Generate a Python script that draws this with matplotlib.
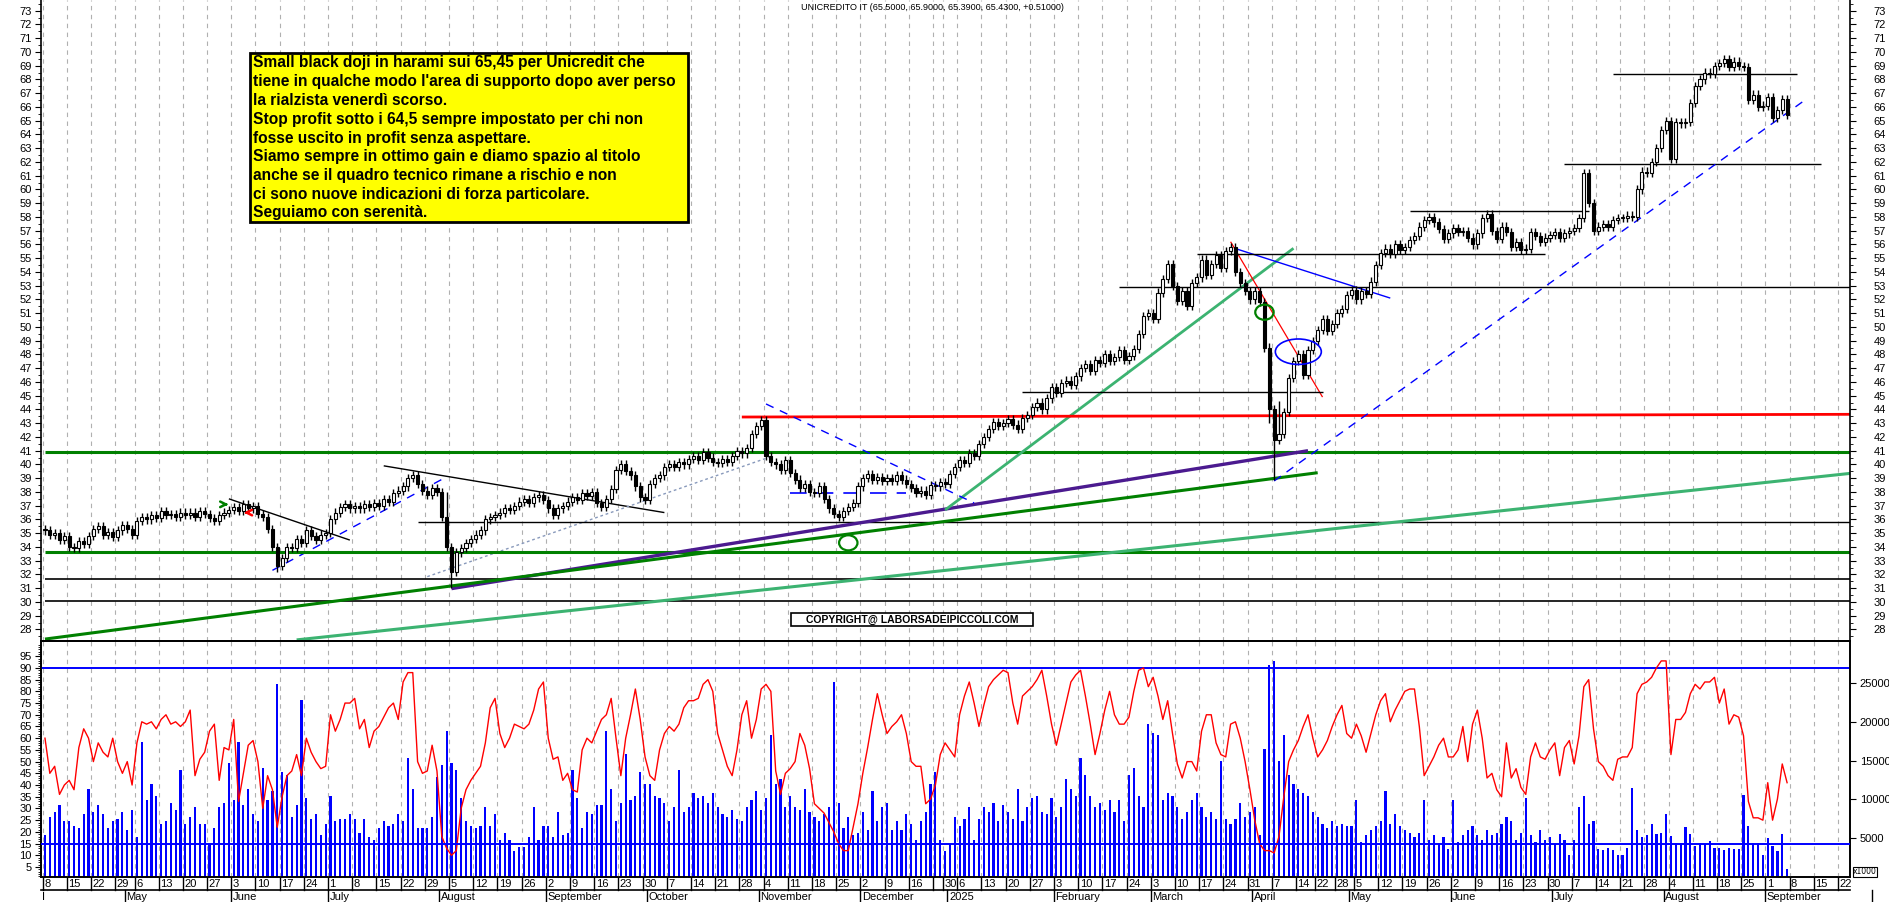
import numpy as np
import pandas as pd
import matplotlib
matplotlib.use("Agg")
import matplotlib.pyplot as plt
from matplotlib.patches import Rectangle, Ellipse
from matplotlib.lines import Line2D
import matplotlib.transforms as mtransforms

# ---------------- data ----------------
holidays = ['2024-05-01', '2024-12-24', '2024-12-25', '2024-12-26', '2024-12-31',
            '2025-01-01', '2025-04-18', '2025-04-21', '2025-05-01']

close = [
    35.2, 34.9, 35.0, 34.5, 34.8, 34.0, 33.9, 34.4, 34.2, 34.8, 35.3, 35.5, 34.9, 35.1, 34.7,
    35.2, 35.6, 35.3, 34.9,
    35.9, 36.2, 36.0, 36.3, 36.1, 36.6, 36.3, 36.4, 36.2, 36.5, 36.3, 36.5, 36.2, 36.6, 36.4,
    36.1, 35.9, 36.3, 36.5, 36.7, 36.9, 36.6, 37.1, 36.8, 37.0, 36.4, 36.2, 35.3, 34.0, 32.6,
    33.2, 34.0, 33.9, 34.6, 34.3, 35.2, 34.8, 34.5, 34.9, 35.0, 36.0, 36.5, 36.9, 37.1, 36.8,
    37.0, 36.8, 37.1, 36.9, 37.2, 37.0, 37.5, 37.3, 37.9, 38.1, 38.4, 39.0, 39.2, 38.6, 38.1,
    37.8, 38.3, 38.0, 36.2, 34.0, 32.2, 33.6, 33.9, 34.3, 34.6, 34.9, 35.2, 36.0, 36.2, 36.3,
    36.5, 36.8, 36.7, 37.0, 37.3, 37.5, 37.2, 37.6, 37.8, 37.4, 36.8, 36.3, 36.8, 37.0, 37.3,
    37.6, 37.4, 37.9, 37.7, 38.0, 37.2, 36.9, 37.5, 38.2, 39.6, 40.0, 39.5, 39.2, 38.4, 37.6,
    37.4, 38.6, 39.0, 39.2, 39.8, 40.0, 39.8, 40.2, 40.0, 40.4, 40.6, 40.3, 40.9, 40.5, 40.2,
    40.1, 40.4, 40.2, 40.6, 41.0, 40.8, 41.2, 42.2, 42.8, 43.2, 40.6, 40.2, 40.0, 39.6, 40.3,
    39.4, 38.9, 38.3, 38.6, 38.0, 37.9, 38.4, 37.5, 36.8, 36.4, 36.2, 36.6, 36.9, 37.2, 38.4,
    39.0, 39.3, 38.9, 39.1, 38.8, 39.0, 38.8, 39.2, 38.9, 38.6, 38.3, 37.9, 38.1, 37.8, 38.5,
    38.4, 38.7, 38.6, 39.3, 39.8,
    40.3, 40.1, 40.8, 40.6, 41.5, 42.0, 42.6, 43.1, 42.8, 43.0, 43.3, 42.9, 42.6, 43.4, 43.6,
    44.2, 44.5, 44.0, 44.8, 45.6, 45.2, 45.9, 46.1, 45.8, 46.4, 47.0, 47.3, 46.8, 47.6, 47.4,
    48.0, 47.5, 47.8, 48.3, 47.6, 47.9, 48.4, 49.5, 50.8, 51.0, 50.6, 52.5, 53.5, 54.6, 53.0,
    51.9, 52.6, 51.5, 53.2, 53.6, 54.9, 53.8, 54.6, 55.2, 54.3, 55.5, 55.8, 54.0, 53.2, 52.6,
    52.0, 52.6, 51.8, 48.5, 44.0, 41.8, 42.2, 43.8, 46.3, 47.5,
    48.0, 46.5, 48.3, 49.0, 49.8, 50.6, 49.7, 50.2, 51.0, 51.3, 52.3, 52.7,
    52.0, 52.6, 52.4, 53.3, 54.5, 55.4, 55.7, 55.3, 56.0, 55.6, 55.8, 56.3, 56.6, 57.3, 57.8,
    58.0, 57.6, 57.1, 56.4, 56.8, 57.2, 56.9, 57.0, 56.5, 56.0, 56.8, 57.9, 58.2, 57.0, 56.4,
    57.3, 56.9, 55.8, 56.2, 55.6, 55.7, 56.9, 56.6, 56.2, 56.5, 56.7, 56.9, 56.5, 56.8, 57.0,
    57.2, 57.9, 61.2, 59.0, 57.0, 57.3, 57.5, 57.3, 57.8, 57.9, 57.9, 58.1, 58.0, 60.0, 61.3,
    61.2, 62.0, 63.0, 64.3, 65.0, 62.2, 64.9, 64.8, 64.9, 66.3, 67.5, 68.0, 68.5, 68.4, 69.0,
    69.2, 69.5, 68.9, 69.3, 69.0, 68.9, 66.5, 66.9, 66.0, 66.1, 66.7, 65.2, 65.8, 66.6, 65.43,
]
low_override_dates = ['2024-06-14', '2024-08-05', '2025-04-07', '2025-04-04']
low_override_values = [32.2, 31.0, 38.9, 43.0]
high_override_dates = ['2024-08-02', '2025-04-08']
high_override_values = [38.0, 44.6]

osc_part1 = [60, 45, 48, 36, 40, 42, 38, 56, 64, 60, 50, 58, 54, 52, 60, 50, 45, 50, 40, 58,
             67, 66, 67, 64, 68, 70, 66, 67, 65, 67, 72, 44, 51, 54, 63, 66, 42, 56, 55, 68,
             33, 45, 57, 59, 50, 30, 44, 38, 22, 35, 44, 46, 53, 44, 60, 54, 50, 47, 48, 70,
             63, 68, 75, 75, 77, 64, 68, 56, 63, 65, 69, 73, 75, 68, 84, 88, 88, 50, 45, 46,
             57, 46, 18, 13, 10, 12, 30, 38, 42, 45, 48, 58, 73, 77, 62, 56, 60, 66, 65, 64,
             66, 72, 81, 84, 60, 51, 52, 42, 45, 38, 37, 55, 60, 58, 63, 68, 70, 77, 60, 44,
             60, 70, 81, 68, 52]
osc_part2 = [44, 42, 55, 62, 65, 63, 66, 73, 76, 76, 77, 83, 85, 80, 62, 55, 48, 44, 55, 70,
             76, 60, 68, 81, 83, 80, 46, 36, 45, 47, 50, 62, 57, 47, 32, 30, 28, 24, 20, 15,
             12, 12, 22, 32, 45, 56, 68, 79, 70, 62, 65, 67, 70, 62, 50, 48, 48, 32, 34, 40,
             53, 58, 55, 52, 70, 78, 84, 75, 65, 74, 82, 85, 87, 89, 88, 75, 66, 78, 80, 82,
             85, 89, 78, 66, 57, 66, 75, 84, 87, 89, 78, 66, 53, 62, 72, 80, 70, 66, 66, 69,
             80, 89, 90, 82, 86, 78, 68, 76, 62, 49, 43, 50, 50, 46, 63, 70, 70, 58, 53, 52,
             66, 67, 60, 50, 38, 25, 15, 12, 12, 11, 18, 35, 50, 55, 59, 65, 70, 60, 52, 55,
             59, 65, 70, 74, 62, 60, 66, 61, 54, 62, 70, 76, 79, 67, 72, 76, 80, 81, 81, 65,
             44, 48, 52, 57, 60, 52, 52, 55, 65, 50, 66, 72, 60, 43, 45, 38, 35, 58, 43, 47,
             39, 36, 52, 58, 52, 51, 55]
osc_part3 = [58, 44, 56, 59, 49, 61, 82, 85, 64, 50, 48, 44, 42, 51, 52, 52, 56, 79, 83, 84,
             86, 90, 93, 93, 53, 68, 68, 71, 79, 83, 81, 84, 84, 86, 75, 81, 66, 70, 69, 61,
             33, 26, 26, 25, 41, 25, 34, 49, 41]
osc = osc_part1 + osc_part2 + osc_part3

# volume, first two parts read on the left (0-100) scale, last part in thousands
vol_part1 = [18, 26, 28, 31, 24, 24, 22, 21, 27, 38, 28, 31, 27, 21, 24, 25, 28, 20, 29, 17,
             58, 33, 40, 35, 23, 24, 32, 29, 46, 23, 26, 30, 23, 23, 14, 21, 30, 32, 49, 33,
             58, 31, 38, 27, 24, 47, 33, 37, 83, 45, 44, 26, 31, 76, 34, 25, 27, 18, 23, 35,
             24, 25, 25, 27, 25, 19, 25, 17, 16, 21, 24, 22, 23, 27, 24, 51, 38, 21, 21, 21,
             26, 43, 48, 63, 49, 46, 34, 24, 22, 21, 22, 30, 22, 27, 16, 19, 16, 11, 13, 13,
             17, 30, 16, 22, 22, 17, 28, 18, 19, 46, 34, 21, 28, 27, 31, 31, 63, 38, 24, 32,
             53, 33, 35, 45, 40]
vol_part2 = [40, 35, 34, 32, 24, 30, 46, 28, 30, 36, 34, 35, 32, 36, 30, 27, 26, 29, 25, 24,
             30, 33, 37, 29, 34, 61, 40, 42, 30, 35, 30, 29, 38, 28, 26, 24, 27, 30, 84, 32,
             21, 26, 18, 19, 28, 20, 37, 24, 30, 32, 20, 24, 20, 27, 23, 16, 24, 28, 40, 45,
             16, 11, 14, 26, 22, 25, 30, 16, 25, 30, 28, 32, 24, 31, 28, 25, 38, 24, 30, 34,
             35, 28, 27, 34, 26, 30, 42, 38, 35, 51, 44, 35, 30, 32, 29, 33, 28, 33, 24, 44,
             47, 35, 30, 66, 62, 61, 33, 36, 35, 30, 25, 28, 33, 36, 30, 26, 28, 25, 50, 25,
             23, 25, 32, 26, 28, 30, 18, 55, 91, 93, 50, 61, 44, 40, 38, 36, 35, 28, 26, 23,
             21, 24, 22, 23, 22, 22, 33, 15, 18, 20, 22, 24, 37, 23, 27, 22, 20, 19, 17, 19,
             33, 16, 18, 14, 17, 12, 33, 15, 18, 20, 22, 18, 16, 20, 18, 19, 23, 26, 24, 16,
             19, 34, 18, 15, 20, 16, 17]
vol_part3_k = [4.2, 5.6, 4.8, 2.9, 4.8, 9.0, 10.4, 6.8, 7.2, 3.6, 3.5, 3.7, 3.5, 2.9, 2.8, 3.8,
               11.5, 6.0, 5.2, 5.4, 6.8, 5.6, 5.7, 8.1, 5.3, 4.4, 4.4, 6.4, 5.5, 4.0, 4.4, 4.2,
               4.6, 3.8, 3.8, 3.5, 3.8, 3.6, 3.6, 10.6, 6.6, 4.4, 4.4, 2.8, 5.0, 4.0, 3.3, 5.6, 1.0]
VOL_TOP_K = 30.43
volume_k = [v * VOL_TOP_K / 101.5 for v in vol_part1 + vol_part2] + vol_part3_k

# annotation lines: (start date, start price, end date, end price, color, width, style)
trend_lines = [
    ('2024-05-31', 37.5, '2024-07-05', 34.5, 'black', 1.0, '-'),
    ('2024-06-13', 32.3, '2024-08-02', 39.1, 'blue', 1.0, (0, (6, 5))),
    ('2024-07-16', 39.9, '2024-10-04', 36.5, 'black', 1.0, '-'),
    ('2024-07-29', 31.84, '2024-11-05', 40.57, '#8899bb', 1.0, (0, (2, 2))),
    ('2024-07-25', 35.8, '2025-09-30', 35.8, 'black', 1.0, '-'),
    ('2024-04-08', 31.65, '2025-09-30', 31.65, 'black', 1.2, '-'),
    ('2024-04-08', 30.05, '2025-09-30', 30.05, 'black', 1.2, '-'),
    ('2024-04-08', 40.88, '2025-09-30', 40.88, '#008000', 2.2, '-'),
    ('2024-04-08', 33.6, '2025-09-30', 33.6, '#008000', 2.2, '-'),
    ('2024-08-05', 30.97, '2025-04-16', 41.0, '#4b1a8f', 2.4, '-'),
    ('2024-04-08', 27.3, '2025-04-22', 39.4, '#008000', 2.2, '-'),
    ('2024-06-20', 27.24, '2025-09-30', 39.5, '#3cb371', 2.2, '-'),
    ('2024-12-30', 36.69, '2025-04-11', 55.72, '#3cb371', 2.0, '-'),
    ('2024-10-28', 43.45, '2025-09-30', 43.65, 'red', 2.0, '-'),
    ('2024-11-04', 44.4, '2025-01-09', 37.2, 'blue', 1.0, (0, (6, 5))),
    ('2024-11-11', 37.9, '2024-12-13', 37.9, 'blue', 1.2, (0, (10, 6))),
    ('2025-03-25', 56.2, '2025-04-23', 44.9, 'red', 0.9, '-'),
    ('2025-03-26', 55.7, '2025-05-14', 52.1, 'blue', 1.0, '-'),
    ('2025-03-14', 55.3, '2025-06-27', 55.3, 'black', 1.0, '-'),
    ('2025-02-20', 52.9, '2025-09-30', 52.9, 'black', 1.0, '-'),
    ('2025-01-23', 45.3, '2025-04-23', 45.3, 'black', 1.0, '-'),
    ('2025-05-20', 58.43, '2025-07-10', 58.43, 'black', 1.0, '-'),
    ('2025-07-03', 61.83, '2025-09-16', 61.83, 'black', 1.0, '-'),
    ('2025-07-17', 68.38, '2025-09-09', 68.38, 'black', 1.0, '-'),
    ('2025-04-07', 38.8, '2025-09-11', 66.58, 'blue', 1.0, (0, (6, 5))),
]
circles = [('2024-11-27', 34.3, '#008000'), ('2025-04-03', 51.07, '#008000')]
ellipse_blue = ('2025-04-14', 48.2)

title = "UNICREDITO IT (65.5000, 65.9000, 65.3900, 65.4300, +0.51000)"
note_lines = [
    "Small black doji in harami sui 65,45 per Unicredit che",
    "tiene in qualche modo l'area di supporto dopo aver perso",
    "la rialzista venerdì scorso.",
    "Stop profit sotto i 64,5 sempre impostato per chi non",
    "fosse uscito in profit senza aspettare.",
    "Siamo sempre in ottimo gain e diamo spazio al titolo",
    "anche se il quadro tecnico rimane a rischio e non",
    "ci sono nuove indicazioni di forza particolare.",
    "Seguiamo con serenità.",
]
copyright_text = "COPYRIGHT@ LABORSADEIPICCOLI.COM"
month_names = {1: '2025', 2: 'February', 3: 'March', 4: 'April', 5: 'May', 6: 'June', 7: 'July',
               8: 'August', 9: 'September', 10: 'October', 11: 'November', 12: 'December'}

# ---------------- dates ----------------
all_days = pd.bdate_range('2024-04-08', '2025-10-10')
all_days = all_days[~all_days.isin(pd.to_datetime(holidays))]
days = all_days[all_days <= '2025-09-05']
n = len(days)
for name, arr in (('close', close), ('osc', osc), ('volume', volume_k)):
    if len(arr) != n:
        raise ValueError(f"{name} length {len(arr)} != {n}")


def xi(d):
    return float(all_days.get_indexer([pd.Timestamp(d)], method='nearest')[0])


x = np.arange(n)
c = np.array(close)
o = np.concatenate([[c[0] + 0.1], c[:-1]])
hi = np.maximum(o, c) + 0.3
lo = np.minimum(o, c) - 0.3
for d, v in zip(low_override_dates, low_override_values):
    lo[int(xi(d))] = v
for d, v in zip(high_override_dates, high_override_values):
    hi[int(xi(d))] = v

# ---------------- figure ----------------
W, H = 1890, 902
fig = plt.figure(figsize=(W / 100, H / 100), dpi=100)
L, R = 41.5, 1850
ax = fig.add_axes([L / W, 1 - 641 / H, (R - L) / W, 641 / H])
ax2 = fig.add_axes([L / W, 1 - 877 / H, (R - L) / W, 236 / H], sharex=ax)
axv = ax2.twinx()

XMIN, XMAX = -0.72, 373.0
ax.set_xlim(XMIN, XMAX)
ax.set_ylim(27.16, 73.78)
ax2.set_ylim(0.73, 101.5)
axv.set_ylim(0, VOL_TOP_K)

# week grid
wk = pd.Series(np.arange(len(all_days)), index=all_days)
week_first = wk.groupby([all_days.isocalendar().year.values, all_days.isocalendar().week.values]).min().values
week_first = sorted(int(v) for v in week_first if v - 0.5 < XMAX)
for a in (ax, ax2):
    for f in week_first:
        a.axvline(f - 0.5, color='#b0b0b0', lw=0.8, ls=(0, (4, 4)), zorder=0)

# candles
up = c >= o
ax.vlines(x, lo, hi, color='black', lw=1.0, zorder=3)
body = np.maximum(np.abs(c - o), 0.07)
ax.bar(x, body, bottom=np.minimum(o, c), width=0.64,
       color=np.where(up, 'white', 'black'), edgecolor='black', lw=0.8, zorder=4)

# trend lines
for d1, p1, d2, p2, col, lw, ls in trend_lines:
    ax.plot([xi(d1), xi(d2)], [p1, p2], color=col, lw=lw, ls=ls, zorder=2, solid_capstyle='butt')
for d, p, col in circles:
    ax.add_patch(Ellipse((xi(d), p), 3.8, 1.1, fill=False, ec=col, lw=1.6, zorder=5))
ax.add_patch(Ellipse((xi(ellipse_blue[0]), ellipse_blue[1]), 9.5, 1.85, fill=False, ec='blue', lw=1.2, zorder=5))
ax.annotate('', xy=(xi('2024-05-31') + 0.5, 37.1), xytext=(xi('2024-05-31') - 1.6, 37.1),
            arrowprops=dict(arrowstyle='->', color='#008000', lw=1.8))
ax.annotate('', xy=(xi('2024-06-05') - 0.5, 36.5), xytext=(xi('2024-06-05') + 1.6, 36.5),
            arrowprops=dict(arrowstyle='->', color='red', lw=1.8))

# bottom panel
ax2.plot(x, osc, color='red', lw=1.0, zorder=3)
ax2.axhline(90, color='blue', lw=1.4, zorder=2)
ax2.axhline(15, color='blue', lw=1.4, zorder=4)
axv.bar(x, volume_k, width=0.45, color='blue', zorder=1)
ax2.set_zorder(axv.get_zorder() + 1)
ax2.patch.set_visible(False)

# axes styling
for a in (ax, ax2, axv):
    for s in a.spines.values():
        s.set_linewidth(1.2)
ax.spines['top'].set_visible(False)
ax.set_yticks(range(28, 74))
ax.set_yticks(np.arange(27.5, 73.6, 1.0), minor=True)
ax.tick_params(axis='y', which='both', left=True, right=True, labelleft=True, labelright=True,
               labelsize=8, length=4, direction='out', pad=3)
ax.tick_params(axis='y', which='minor', length=2)
ax.tick_params(axis='x', bottom=False, labelbottom=False)
ax2.set_yticks(range(5, 100, 5))
ax2.set_yticks(range(1, 101), minor=True)
ax2.tick_params(axis='y', which='major', labelsize=8, length=4, pad=3)
ax2.tick_params(axis='y', which='minor', length=2)
ax2.tick_params(axis='x', bottom=False, labelbottom=False)
axv.set_yticks([5, 10, 15, 20, 25])
axv.set_yticklabels(['5000', '10000', '15000', '20000', '25000'])
axv.tick_params(axis='y', labelsize=8, length=4, pad=3)
for lab in ax.get_yticklabels() + ax2.get_yticklabels() + axv.get_yticklabels():
    lab.set_fontfamily('Liberation Sans')
# right price labels: right aligned near the figure edge
offset = mtransforms.ScaledTranslation(26 / 100, 0, fig.dpi_scale_trans)
for t in ax.yaxis.get_major_ticks():
    t.label2.set_horizontalalignment('right')
    t.label2.set_transform(t.label2.get_transform() + offset)

# date rows
tr = mtransforms.blended_transform_factory(ax2.transData, fig.transFigure)
y877, y890 = 1 - 877 / H, 1 - 890 / H
fig.add_artist(Line2D([L / W, R / W], [y890, y890], transform=fig.transFigure, color='black', lw=1.2))
for j, f in enumerate(week_first):
    fig.add_artist(Line2D([f - 0.5, f - 0.5], [y877, y890], transform=tr, color='black', lw=1.0, clip_on=False))
    if f - 0.5 > XMAX - 1:
        continue
    if j + 1 < len(week_first) and week_first[j + 1] - f < 3:
        continue
    fig.text(f - 0.2, 1 - 884 / H, str(all_days[f].day), transform=tr, ha='left', va='center',
             fontsize=8, family='Liberation Sans')
months = wk.groupby([all_days.year, all_days.month]).min()
for (yy, mm), f in months.items():
    f = int(f)
    if f == 0:
        continue
    fig.add_artist(Line2D([f - 0.5, f - 0.5], [y890, 0], transform=tr, color='black', lw=1.0, clip_on=False))
    if f - 0.5 < XMAX - 10:
        fig.text(f - 0.2, 1 - 897 / H, month_names[mm], transform=tr, ha='left', va='center',
                 fontsize=8, family='Liberation Sans')
fig.text(xi('2024-04-08') - 0.6, 1 - 897 / H, 'l', transform=tr, ha='left', va='center', fontsize=8)

# texts
fig.text(801 / W, 1 - 8 / H, title, fontsize=6.5, family='Liberation Sans', va='center', ha='left')
fig.add_artist(Rectangle((250 / W, 1 - 222 / H), 438 / W, 169 / H, transform=fig.transFigure,
                         facecolor='#ffff00', edgecolor='black', lw=2, zorder=10))
for k, line in enumerate(note_lines):
    fig.text(253 / W, 1 - (63 + 18.75 * k) / H, line, fontsize=11.2, fontweight='bold',
             family=['Liberation Sans Narrow', 'Liberation Sans'], va='center', ha='left', zorder=11)
fig.add_artist(Rectangle((791.5 / W, 1 - 626 / H), 241 / W, 13.3 / H, transform=fig.transFigure,
                         facecolor='white', edgecolor='black', lw=1.2, zorder=10))
fig.text(912 / W, 1 - 619.5 / H, copyright_text, fontsize=7.5, fontweight='bold',
         family='Liberation Sans', va='center', ha='center', zorder=11)
fig.add_artist(Rectangle((1853 / W, 1 - 877 / H), 24 / W, 10 / H, transform=fig.transFigure,
                         facecolor='white', edgecolor='black', lw=0.8, zorder=10))
fig.text(1865 / W, 1 - 872 / H, 'x1000', fontsize=5.5, va='center', ha='center', zorder=11)

fig.savefig('out.png', dpi=100)
